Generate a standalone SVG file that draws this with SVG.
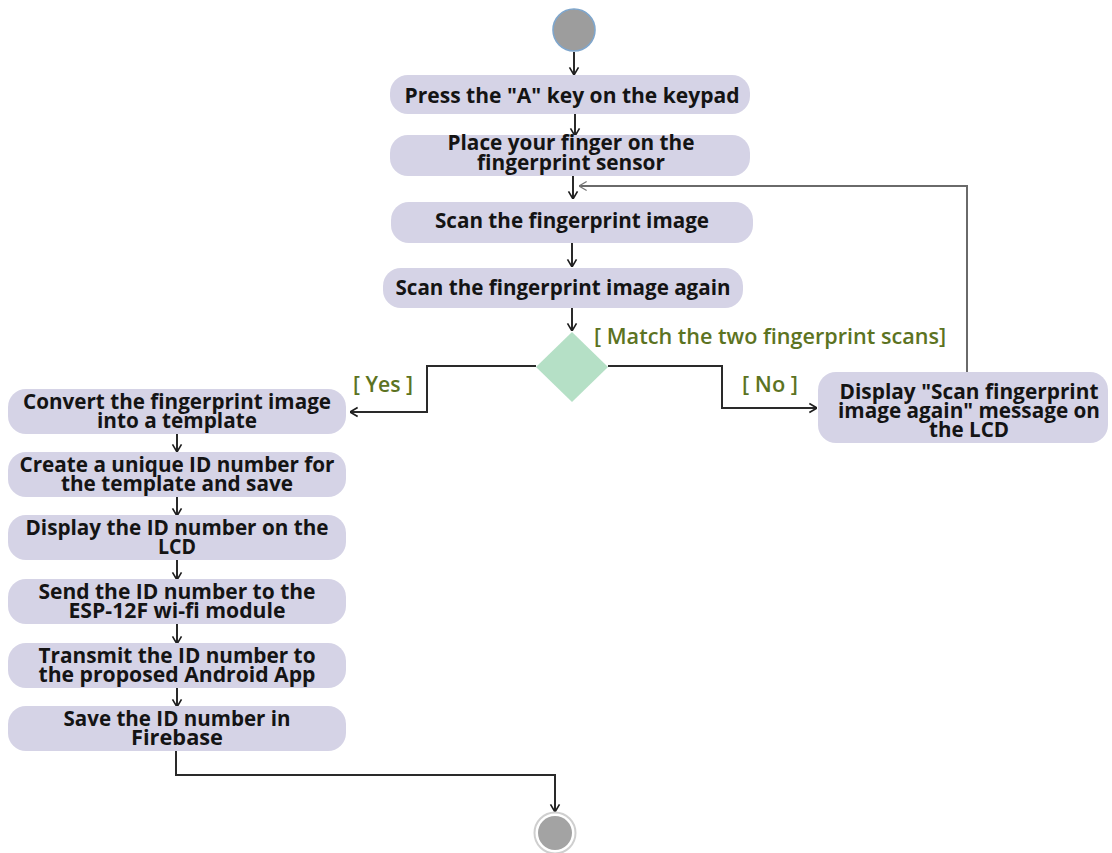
<svg xmlns="http://www.w3.org/2000/svg" width="1112" height="853" viewBox="0 0 1112 853">
  <defs>
    <style>
      .act { fill: #d5d3e6; }
      .lbl { font-family: "Open Sans", "Liberation Sans", sans-serif; font-weight: 700; font-size: 21px; fill: #141414; text-anchor: middle; }
      .grd { font-family: "Open Sans", "Liberation Sans", sans-serif; font-weight: 600; font-size: 21px; fill: #5c7322; }
      .flow { fill: none; stroke: #2a2a2a; stroke-width: 2; }
      .back { fill: none; stroke: #6a6a6a; stroke-width: 2; }
    </style>
    <marker id="arrow" viewBox="0 0 10 12" refX="9.5" refY="6" markerUnits="userSpaceOnUse" markerWidth="9" markerHeight="12" orient="auto">
      <path d="M1,1 L9.5,6 L1,11" fill="none" stroke="#1e1e1e" stroke-width="1.8"/>
    </marker>
    <marker id="arrowGrey" viewBox="0 0 10 12" refX="9.5" refY="6" markerUnits="userSpaceOnUse" markerWidth="9" markerHeight="12" orient="auto">
      <path d="M1,1 L9.5,6 L1,11" fill="none" stroke="#777" stroke-width="1.4"/>
    </marker>
  </defs>

  <rect width="1112" height="853" fill="#ffffff"/>

  <!-- connectors -->
  <g id="connectors">
    <line class="flow" x1="574" y1="52" x2="574" y2="75" marker-end="url(#arrow)"/>
    <line class="flow" x1="575" y1="114" x2="575" y2="136" marker-end="url(#arrow)"/>
    <line class="flow" x1="573" y1="176" x2="573" y2="199" marker-end="url(#arrow)"/>
    <line class="flow" x1="572" y1="243" x2="572" y2="267" marker-end="url(#arrow)"/>
    <line class="flow" x1="572" y1="308" x2="572" y2="331" marker-end="url(#arrow)"/>
    <!-- decision branches -->
    <path class="flow" d="M536,366 H427 V412 H350" marker-end="url(#arrow)"/>
    <path class="flow" d="M608,366 H722 V408 H817" marker-end="url(#arrow)"/>
    <!-- retry loop -->
    <path class="back" d="M967,372 V186 H579" marker-end="url(#arrowGrey)"/>
    <!-- left column -->
    <line class="flow" x1="177" y1="434" x2="177" y2="452" marker-end="url(#arrow)"/>
    <line class="flow" x1="177" y1="497" x2="177" y2="516" marker-end="url(#arrow)"/>
    <line class="flow" x1="177" y1="560" x2="177" y2="580" marker-end="url(#arrow)"/>
    <line class="flow" x1="177" y1="624" x2="177" y2="644" marker-end="url(#arrow)"/>
    <line class="flow" x1="177" y1="688" x2="177" y2="707" marker-end="url(#arrow)"/>
    <path class="flow" d="M176,751 V775 H555 V812" marker-end="url(#arrow)"/>
  </g>

  <!-- start -->
  <g id="start">
    <circle cx="574" cy="30" r="21" fill="#9d9d9d" stroke="#7fa6cc" stroke-width="1.6"/>
  </g>

  <g id="press-a">
    <rect class="act" x="390" y="75" width="360" height="39" rx="18"/>
    <text class="lbl" x="572" y="103" textLength="335" lengthAdjust="spacingAndGlyphs">Press the "A" key on the keypad</text>
  </g>

  <g id="place-finger">
    <rect class="act" x="390" y="135" width="360" height="41" rx="18"/>
    <text class="lbl" x="571" y="150" textLength="247" lengthAdjust="spacingAndGlyphs">Place your finger on the</text>
    <text class="lbl" x="571" y="170" textLength="188" lengthAdjust="spacingAndGlyphs">fingerprint sensor</text>
  </g>

  <g id="scan">
    <rect class="act" x="391" y="202" width="362" height="41" rx="18"/>
    <text class="lbl" x="572" y="228" textLength="274" lengthAdjust="spacingAndGlyphs">Scan the fingerprint image</text>
  </g>

  <g id="scan-again">
    <rect class="act" x="383" y="268" width="360" height="40" rx="18"/>
    <text class="lbl" x="563" y="295" textLength="335" lengthAdjust="spacingAndGlyphs">Scan the fingerprint image again</text>
  </g>

  <g id="decision">
    <polygon points="572,332 608,367 572,402 536,367" fill="#b5e0c6"/>
    <text class="grd" x="594" y="344" textLength="352" lengthAdjust="spacingAndGlyphs">[ Match the two fingerprint scans]</text>
    <text class="grd" x="353" y="392" textLength="60" lengthAdjust="spacingAndGlyphs">[ Yes ]</text>
    <text class="grd" x="742" y="392" textLength="56" lengthAdjust="spacingAndGlyphs">[ No ]</text>
  </g>

  <g id="retry-message">
    <rect class="act" x="818" y="372" width="290" height="71" rx="18"/>
    <text class="lbl" x="969" y="399" textLength="259" lengthAdjust="spacingAndGlyphs">Display "Scan fingerprint</text>
    <text class="lbl" x="969" y="418" textLength="262" lengthAdjust="spacingAndGlyphs">image again" message on</text>
    <text class="lbl" x="969" y="437" textLength="80" lengthAdjust="spacingAndGlyphs">the LCD</text>
  </g>

  <g id="convert">
    <rect class="act" x="8" y="389" width="338" height="45" rx="18"/>
    <text class="lbl" x="177" y="409" textLength="308" lengthAdjust="spacingAndGlyphs">Convert the fingerprint image</text>
    <text class="lbl" x="177" y="428" textLength="160" lengthAdjust="spacingAndGlyphs">into a template</text>
  </g>

  <g id="create-id">
    <rect class="act" x="8" y="452" width="338" height="45" rx="18"/>
    <text class="lbl" x="177" y="472" textLength="315" lengthAdjust="spacingAndGlyphs">Create a unique ID number for</text>
    <text class="lbl" x="177" y="491" textLength="232" lengthAdjust="spacingAndGlyphs">the template and save</text>
  </g>

  <g id="display-id">
    <rect class="act" x="8" y="515" width="338" height="45" rx="18"/>
    <text class="lbl" x="177" y="535" textLength="303" lengthAdjust="spacingAndGlyphs">Display the ID number on the</text>
    <text class="lbl" x="177" y="554" textLength="38" lengthAdjust="spacingAndGlyphs">LCD</text>
  </g>

  <g id="send-id">
    <rect class="act" x="8" y="579" width="338" height="45" rx="18"/>
    <text class="lbl" x="177" y="599" textLength="277" lengthAdjust="spacingAndGlyphs">Send the ID number to the</text>
    <text class="lbl" x="177" y="618" textLength="217" lengthAdjust="spacingAndGlyphs">ESP-12F wi-fi module</text>
  </g>

  <g id="transmit-id">
    <rect class="act" x="8" y="643" width="338" height="45" rx="18"/>
    <text class="lbl" x="177" y="663" textLength="277" lengthAdjust="spacingAndGlyphs">Transmit the ID number to</text>
    <text class="lbl" x="177" y="682" textLength="277" lengthAdjust="spacingAndGlyphs">the proposed Android App</text>
  </g>

  <g id="save-id">
    <rect class="act" x="8" y="706" width="338" height="45" rx="18"/>
    <text class="lbl" x="177" y="726" textLength="227" lengthAdjust="spacingAndGlyphs">Save the ID number in</text>
    <text class="lbl" x="177" y="745" textLength="92" lengthAdjust="spacingAndGlyphs">Firebase</text>
  </g>

  <!-- end -->
  <g id="end">
    <circle cx="555" cy="833" r="20.5" fill="#ffffff" stroke="#cfcfcf" stroke-width="2"/>
    <circle cx="555" cy="833" r="17" fill="#a3a3a3"/>
  </g>
</svg>
